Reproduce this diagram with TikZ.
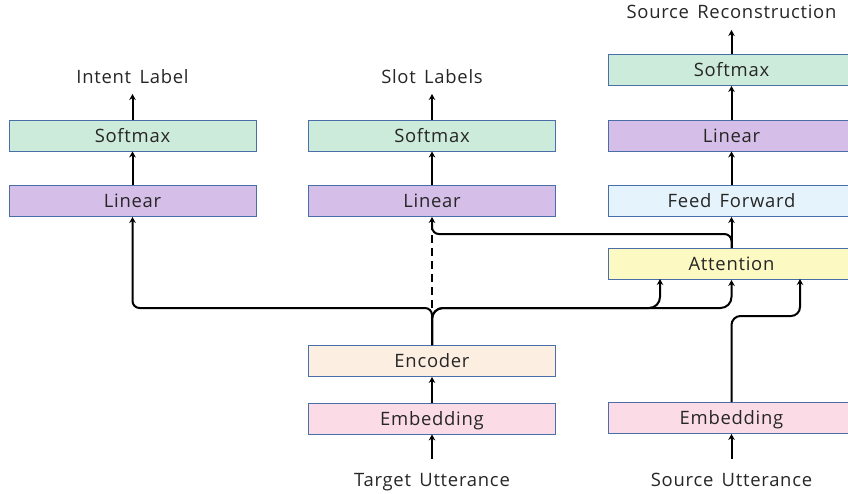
\documentclass[tikz,border=0pt]{standalone}
\usepackage{fontspec}
\setmainfont{Open Sans}[LetterSpace=4,WordSpace=1.5]
\usetikzlibrary{arrows.meta}
\definecolor{bordc}{HTML}{4A6FA8}
\definecolor{smx}{HTML}{CDEBDA}
\definecolor{lin}{HTML}{D5BEE8}
\definecolor{ffc}{HTML}{E5F4FC}
\definecolor{attc}{HTML}{FCF9C2}
\definecolor{encc}{HTML}{FDEEE2}
\definecolor{embc}{HTML}{FBDCE6}
\tikzset{
  blk/.style={draw=bordc, line width=0.9bp, minimum width=247bp, minimum height=31bp, inner sep=0pt, text height=13.2bp, text depth=0bp, font=\fontsize{18.5}{22}\selectfont, text=black!85},
  lbl/.style={inner sep=0pt, anchor=base, font=\fontsize{18.5}{22}\selectfont, text=black!85},
  conn/.style={line width=2bp, -{Stealth[length=6bp,width=6.5bp]}},
  plain/.style={line width=2bp},
}
\begin{document}
\begin{tikzpicture}[x=1bp,y=-1bp]
\useasboundingbox (0,0) rectangle (848,494);
% boxes
\node[blk, fill=smx] (smxA) at (132.5,135.5) {Softmax};
\node[blk, fill=lin] (linA) at (132.5,201) {Linear};
\node[blk, fill=smx] (smxB) at (432,135.5) {Softmax};
\node[blk, fill=lin] (linB) at (432,201) {Linear};
\node[blk, fill=smx] (smxC) at (731.5,70) {Softmax};
\node[blk, fill=lin] (linC) at (731.5,135.5) {Linear};
\node[blk, fill=ffc] (ff) at (731.5,201) {Feed Forward};
\node[blk, fill=attc] (att) at (731.5,264) {Attention};
\node[blk, fill=encc] (enc) at (432,361) {Encoder};
\node[blk, fill=embc] (embT) at (432,418.5) {Embedding};
\node[blk, fill=embc] (embS) at (731.5,418) {Embedding};
% labels
\node[lbl] (intent) at (132.5,83.5) {Intent Label};
\node[lbl] (slot) at (432,83.5) {Slot Labels};
\node[lbl] (srcrec) at (731.5,18.5) {Source Reconstruction};
\node[lbl] (tgtu) at (432,486.5) {Target Utterance};
\node[lbl] (srcu) at (731.5,486.5) {Source Utterance};
% coordinates
\coordinate (tgtIn) at (432,459);
\coordinate (srcIn) at (731.5,459);
\coordinate (intentEnd) at (132.5,94);
\coordinate (slotEnd) at (432,94);
\coordinate (recEnd) at (731.5,30);
\coordinate (split) at (432,308);
\coordinate (attL) at (660,279);
\coordinate (attR) at (800,279);
% simple arrows
\draw[conn] (tgtIn) -- (embT.south);
\draw[conn] (embT.north) -- (enc.south);
\draw[conn] (srcIn) -- (embS.south);
\draw[conn] (linA.north) -- (smxA.south);
\draw[conn] (smxA.north) -- (intentEnd);
\draw[conn] (linB.north) -- (smxB.south);
\draw[conn] (smxB.north) -- (slotEnd);
\draw[conn] (att.north) -- (ff.south);
\draw[conn] (ff.north) -- (linC.south);
\draw[conn] (linC.north) -- (smxC.south);
\draw[conn] (smxC.north) -- (recEnd);
% encoder branches
\draw[conn, rounded corners=7bp] (enc.north) -- (split) -| (linA.south);
\draw[conn, rounded corners=11bp] (enc.north) -- (split) -| (attL);
\draw[conn, rounded corners=11bp] (enc.north) -- (split) -| (att.south);
\draw[plain, dash pattern=on 8bp off 5bp] (split) -- ++(0,-82);
% attention to slot linear
\draw[conn, rounded corners=7bp] (att.north) -- ++(0,-14) -| (linB.south);
% source embedding to attention
\draw[conn, rounded corners=9bp] (embS.north) |- (766,316) -| (attR);
\end{tikzpicture}
\end{document}
